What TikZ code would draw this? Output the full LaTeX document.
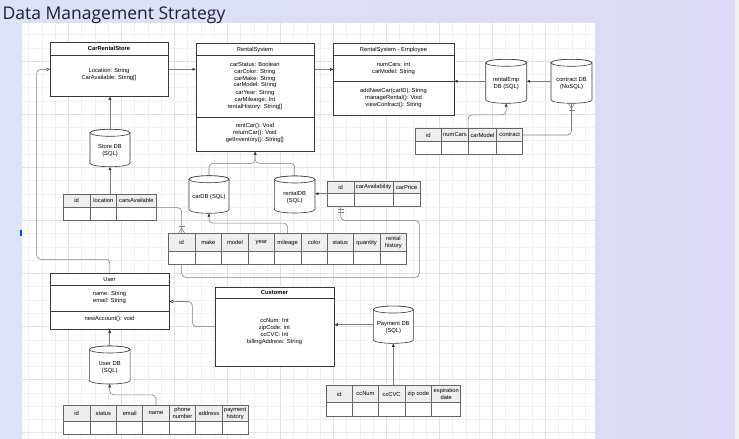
\documentclass[tikz,border=0pt]{standalone}
\usepackage{fontspec}
\setmainfont{Liberation Sans}
\newfontfamily\titlefont{Open Sans}
\usetikzlibrary{arrows.meta}
\definecolor{bgA}{HTML}{DCE3F6}
\definecolor{bgB}{HTML}{DCDAF4}
\definecolor{gridminor}{HTML}{F1F1F1}
\definecolor{gridmajor}{HTML}{E2E2E2}
\definecolor{hdrc}{HTML}{EEEEEE}
\definecolor{connc}{HTML}{808080}
\definecolor{boxc}{HTML}{3A3A3A}
\definecolor{titlec}{HTML}{1E1E3C}
\newcommand\sz{\fontsize{5.8}{7}\selectfont}
\newcommand\cyl[6]{%
  \pgfmathsetmacro\cxl{#2-#4/2}%
  \pgfmathsetmacro\cxr{#2+#4/2}%
  \pgfmathsetmacro\cyt{#3-#5/2+3.5}%
  \pgfmathsetmacro\cyb{#3+#5/2-3.5}%
  \pgfmathsetmacro\crx{#4/2}%
  \filldraw[cylst] (\cxl,\cyt) -- (\cxl,\cyb) arc[start angle=180,end angle=0,x radius=\crx,y radius=3.5] -- (\cxr,\cyt) arc[start angle=0,end angle=-180,x radius=\crx,y radius=3.5] -- cycle;
  \draw[cylst] (#2,\cyt) ellipse[x radius=\crx,y radius=3.5];
  \node[minimum width=#4pt,minimum height=#5pt] (#1) at (#2,#3) {};
  \node[align=center] (#1-t) at ([yshift=-2.5pt]#1.center) {#6};
}
\newcommand\dbtab[7]{%
  \foreach \xa/\xb/\nm/\lab in {#7}{%
    \filldraw[tabline,fill=hdrc] (\xa,#4) rectangle (\xb,#5);
    \filldraw[tabline,fill=white] (\xa,#5) rectangle (\xb,#6);
    \node[align=center,minimum width=\xb pt-\xa pt,minimum height=#5pt-#4pt] (#1-\nm) at ({(\xa+\xb)/2},{(#4+#5)/2}) {\lab};
  }
  \node[minimum width=#3pt-#2pt,minimum height=#6pt-#4pt,anchor=north west] (#1) at (#2,#4) {};
}
\begin{document}
\begin{tikzpicture}[x=1pt,y=-1pt,
  every node/.style={font=\sz, inner sep=0pt},
  conn/.style={draw=connc, line width=0.55pt, rounded corners=4pt},
  erdmark/.style={draw=connc, line width=0.55pt},
  arr/.style={-{Triangle[length=3.2pt,width=2.8pt,color=black!80]}},
  openarr/.style={-{Triangle[open,length=3.5pt,width=3.5pt,color=black!70]}},
  classbox/.style={draw=boxc, line width=0.7pt, fill=white},
  classline/.style={draw=boxc, line width=0.7pt},
  tabline/.style={draw=black!60, line width=0.5pt},
  cylst/.style={draw=boxc, line width=0.6pt, fill=white},
]
\useasboundingbox (0,0) rectangle (739,439);
% background
\shade[left color=bgA, right color=bgB] (0,0) rectangle (739,439);
\fill[black!6] (735,0) rectangle (739,439);
\fill[white] (22,22.5) rectangle (594.5,439);
\begin{scope}
  \clip (22,22.5) rectangle (594.5,439);
  \foreach \i in {0,...,44} {
    \pgfmathtruncatemacro\mj{mod(\i,4)}
    \ifnum\mj=0 \def\gc{gridmajor}\else \def\gc{gridminor}\fi
    \draw[\gc, line width=0.6pt] ({15.3+13.25*\i},22.5) -- ({15.3+13.25*\i},439);
  }
  \foreach \i in {0,...,33} {
    \pgfmathtruncatemacro\mj{mod(\i,4)}
    \ifnum\mj=0 \def\gc{gridmajor}\else \def\gc{gridminor}\fi
    \draw[\gc, line width=0.6pt] (22,{8.06+13.27*\i}) -- (594.5,{8.06+13.27*\i});
  }
\end{scope}
\fill[blue!70!cyan] (20.3,229.5) rectangle (22.3,236);
\node[anchor=base west, font=\titlefont\fontsize{17.5}{20}\selectfont, text=titlec] (title) at (2.5,19.5) {Data Management Strategy};

% ---- classes ----
\node[classbox, minimum width=118pt, minimum height=54pt, anchor=north west] (crs) at (50,42) {};
\draw[classline] (50,55) -- (168,55);
\node[font=\sz\bfseries] (crs-h) at (109,48.7) {CarRentalStore};
\node[align=center] (crs-a) at (109,74.3) {Location: String\\CarAvailable: String[]};

\node[classbox, minimum width=118.3pt, minimum height=107.7pt, anchor=north west] (rs) at (195.7,43.3) {};
\draw[classline] (195.7,55.7) -- (314,55.7);
\draw[classline] (195.7,117.3) -- (314,117.3);
\node (rs-h) at (254.9,49.7) {RentalSystem};
\node[align=center] (rs-a) at (254.9,85.5) {carStatus: Boolean\\carColor: String\\carMake: String\\carModel: String\\carYear: String\\carMilearge: Int\\rentalHistory: String[]};
\node[align=center] (rs-m) at (254.9,132.8) {rentCar(): Void\\returnCar(): Void\\getInventory(): String[]};

\node[classbox, minimum width=120.4pt, minimum height=72pt, anchor=north west] (emp) at (333.3,43.3) {};
\draw[classline] (333.3,55.7) -- (453.7,55.7);
\draw[classline] (333.3,81.7) -- (453.7,81.7);
\node (emp-h) at (393.5,49.7) {RentalSystem - Employee};
\node[align=center] (emp-a) at (393.5,68) {numCars: int\\carModel: String};
\node[align=center] (emp-m) at (393.5,98.2) {addNewCar(carID): String\\manageRental(): Void\\viewContract(): String};

\node[classbox, minimum width=119pt, minimum height=55.7pt, anchor=north west] (user) at (50,273.3) {};
\draw[classline] (50,285.7) -- (169,285.7);
\draw[classline] (50,311.7) -- (169,311.7);
\node (user-h) at (109.5,279.7) {User};
\node[align=center] (user-a) at (109.5,297.9) {name: String\\email: String};
\node (user-m) at (109.5,319.3) {newAccount(): void};

\node[classbox, minimum width=119pt, minimum height=79pt, anchor=north west] (cust) at (215,286.7) {};
\draw[classline] (215,298.3) -- (334,298.3);
\node[font=\sz\bfseries] (cust-h) at (274.5,292.6) {Customer};
\node[align=center] (cust-a) at (274.5,331.8) {ccNum: Int\\zipCode: int\\ccCVC: Int\\billingAddress: String};

% ---- databases ----
\cyl{storedb}{110}{148}{40}{37.4}{Store DB\\(SQL)}
\cyl{redb}{506.2}{81.3}{41}{44}{rentalEmp\\DB (SQL)}
\cyl{ctdb}{571.5}{81.3}{41}{44}{contract DB\\(NoSQL)}
\cyl{cardb}{209}{194.5}{40}{37.5}{carDB (SQL)}
\cyl{rentdb}{294.7}{194.5}{40.6}{37}{rentalDB\\(SQL)}
\cyl{userdb}{109.7}{365}{40.7}{38}{User DB\\(SQL)}
\cyl{paydb}{393.3}{324.7}{40}{37.3}{Payment DB\\(SQL)}

% ---- tables ----
\dbtab{nt}{415}{522.7}{128.3}{141.7}{154.3}{415/441.7/id/id, 441.7/468.3/numCars/numCars, 468.3/496.7/carModel/carModel, 496.7/522.7/contract/contract}
\dbtab{lt}{63.3}{156}{194.3}{207.3}{220.7}{63.3/90/id/id, 90/116.7/location/location, 116.7/156/cars/carsAvailable}
\dbtab{cat}{327.3}{420}{181}{193.3}{206}{327.3/354/id/id, 354/393.3/avail/carAvailability, 393.3/420/price/carPrice}
\dbtab{ct}{168.3}{406.7}{233.3}{251.7}{264.3}{168.3/195/id/id, 195/221.7/make/make, 221.7/248.3/model/model, 248.3/274.3/year/year, 274.3/301/mileage/mileage, 301/327.3/color/color, 327.3/353.3/status/status, 353.3/380/quantity/quantity, 380/406.7/rh/{rental\\history}}
\dbtab{ut}{63.3}{248.3}{405}{421.7}{434.5}{63.3/90/id/id, 90/116.7/status/status, 116.7/142.7/email/email, 142.7/169.3/name/name, 169.3/195.7/phone/{phone\\number}, 195.7/222/address/address, 222/248.3/pay/{payment\\history}}
\dbtab{pt}{326}{460.7}{385.3}{402.7}{416}{326/352.7/id/id, 352.7/378.3/ccNum/ccNum, 378.3/405/ccCVC/ccCVC, 405/431.7/zip/zip code, 431.7/460.7/exp/{expiration\\date}}

% ---- connectors ----
\draw[conn, arr] (crs.east) -- (rs.west |- crs.east);
\draw[conn, arr] (rs.east |- crs.east) -- (emp.west |- crs.east);
\draw[conn, arr] (redb.west) -- (emp.east |- redb.west);
\draw[conn, arr] (ctdb.west) -- (redb.east);
\draw[conn, arr] (nt-carModel.north west) -- ++(0,-13.3) -| (redb.south);
\draw[conn] (nt-contract.east) -| (ctdb.south);
\draw[erdmark] (ctdb.south) ++(-3,0) -- ++(3,5) -- ++(3,-5);
\draw[erdmark] (ctdb.south) ++(-3,6.5) -- ++(6,0);

\draw[conn, arr] (storedb.north) -- (crs.south -| storedb.north);
\draw[conn, arr] (lt.north -| storedb.south) -- (storedb.south);
\draw[conn] (lt.east) -| (ct-id.north);
\draw[erdmark] (ct-id.north) ++(-3,0) -- ++(3,-5) -- ++(3,5);
\draw[erdmark] (ct-id.north) ++(-3,-6.5) -- ++(6,0);

\path (rs.south) ++(0,11.7) coordinate (mrg);
\draw[conn] (cardb.north) |- (mrg) -- (rs.south);
\draw[conn, arr] (rentdb.north) |- (mrg) -- (rs.south);
\draw[conn, arr] (cat.west) -- (rentdb.east |- cat.west);
\draw[conn, arr] (ct-mileage.north) -- ++(0,-10) -| (cardb.south);

\coordinate (loopc) at (419.3,277.3);
\draw[conn] (cat-id.center |- cat.south) -- ++(0,14) -| (loopc) -| (ct-id.center |- ct.south);
\draw[erdmark] (cat-id.center |- cat.south) ++(-3,3) -- ++(6,0);
\draw[erdmark] (cat-id.center |- cat.south) ++(-3,6) -- ++(6,0);

\coordinate (lft) at (36.7,0);
\draw[conn, openarr] (user.north) -- ++(0,-14) -| (lft |- crs.west) -- (crs.west);
\draw[conn, openarr] (cust.west) -- ++(-22.7,0) |- (user.east);
\draw[conn, arr] (userdb.north) -- (user.south -| userdb.north);
\draw[conn, arr] (ut-name.north) -- ++(0,-10) -| (userdb.south);
\draw[conn, arr] (paydb.west) -- (cust.east |- paydb.west);
\draw[conn, arr] (pt.north -| paydb.south) -- (paydb.south);
\end{tikzpicture}
\end{document}
